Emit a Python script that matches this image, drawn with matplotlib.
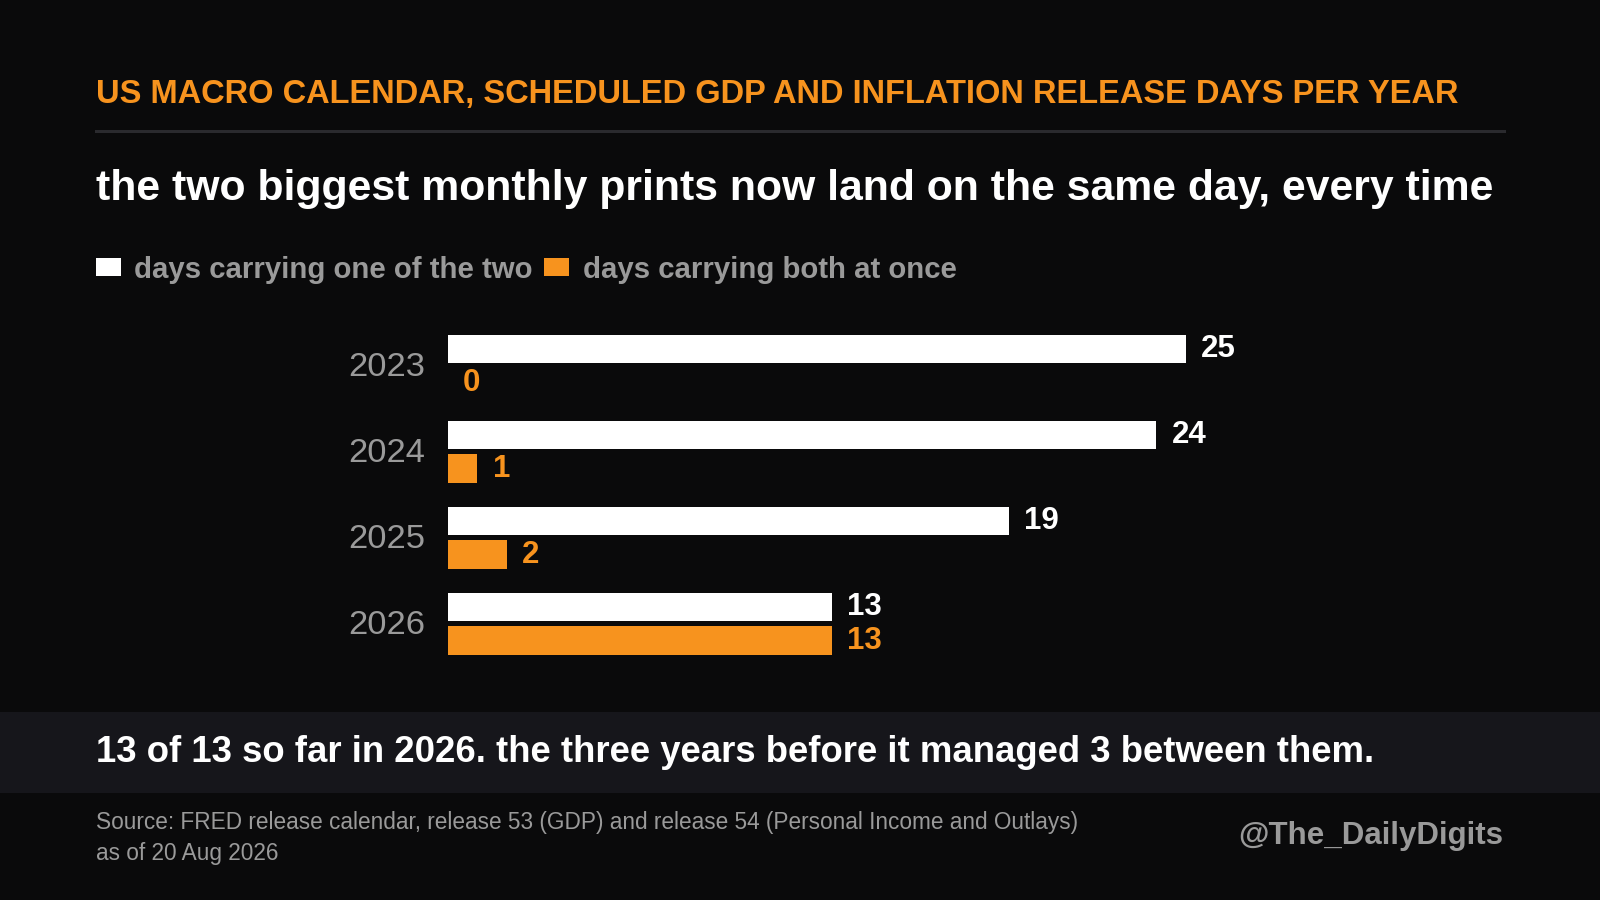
import matplotlib
matplotlib.use("Agg")
import matplotlib.pyplot as plt
import numpy as np
from matplotlib.patches import Rectangle

# ==========================================================
# DATA
# ==========================================================
years = ["2023", "2024", "2025", "2026"]
one_of_two = [25, 24, 19, 13]
both_at_once = [0, 1, 2, 13]

title = "US MACRO CALENDAR, SCHEDULED GDP AND INFLATION RELEASE DAYS PER YEAR"
subtitle = "the two biggest monthly prints now land on the same day, every time"
legend_labels = ["days carrying one of the two", "days carrying both at once"]
takeaway = "13 of 13 so far in 2026. the three years before it managed 3 between them."
source_lines = [
    "Source: FRED release calendar, release 53 (GDP) and release 54 (Personal Income and Outlays)",
    "as of 20 Aug 2026",
]
handle = "@The_DailyDigits"

# ==========================================================
# STYLE
# ==========================================================
BG = "#0a0a0b"
BAND = "#16161b"
RULE = "#2a2a2e"
ORANGE = "#f7931e"
WHITE = "#ffffff"
GRAY = "#9a9a9a"

plt.rcParams["font.family"] = ["Liberation Sans", "DejaVu Sans"]

# reference layout measured on a 1568 x 882 grid
W, H = 1568.0, 882.0


def fx(px):
    return px / W


def fy(py):
    return 1 - py / H


fig = plt.figure(figsize=(16, 9), dpi=100)
fig.patch.set_facecolor(BG)

# ==========================================================
# HEADER
# ==========================================================
fig.text(fx(94), fy(101), title, color=ORANGE, fontsize=23.5,
         fontweight="bold", ha="left", va="baseline")

fig.add_artist(Rectangle((fx(93), fy(130)), fx(1476) - fx(93), 3 / H,
                         transform=fig.transFigure, color=RULE, lw=0))

fig.text(fx(94), fy(196), subtitle, color=WHITE, fontsize=30.75,
         fontweight="bold", ha="left", va="baseline")

# legend
fig.add_artist(Rectangle((fx(94), fy(270)), 25 / W, 17 / H,
                         transform=fig.transFigure, color=WHITE, lw=0))
fig.text(fx(131), fy(272), legend_labels[0], color=GRAY, fontsize=21.2,
         fontweight="bold", ha="left", va="baseline")
fig.add_artist(Rectangle((fx(533), fy(270)), 25 / W, 17 / H,
                         transform=fig.transFigure, color=ORANGE, lw=0))
fig.text(fx(571), fy(272), legend_labels[1], color=GRAY, fontsize=21.2,
         fontweight="bold", ha="left", va="baseline")

# ==========================================================
# BARS
# ==========================================================
step = 84.3
top_px = 358.5 - step / 2
bottom_px = 358.5 + 3 * step + step / 2
ax = fig.add_axes([fx(439), fy(bottom_px), fx(1162) - fx(439),
                   (bottom_px - top_px) / H])
ax.set_facecolor("none")
ax.set_xlim(0, 25)
ax.set_ylim(len(years) - 0.5, -0.5)
ax.axis("off")

y = np.arange(len(years))
off = 16.5 / step
bh = 28 / step

ax.barh(y - off, one_of_two, height=bh, color=WHITE, lw=0)
ax.barh(y + off, both_at_once, height=bh, color=ORANGE, lw=0)

for i in range(len(years)):
    ax.annotate(years[i], (0, y[i]), xytext=(-16.4, -1.5),
                textcoords="offset points", ha="right", va="center",
                color=GRAY, fontsize=24.8, annotation_clip=False)
    ax.annotate(str(one_of_two[i]), (one_of_two[i], y[i] - off),
                xytext=(11, 0), textcoords="offset points", ha="left",
                va="center", color=WHITE, fontsize=22.5, fontweight="bold",
                annotation_clip=False)
    ax.annotate(str(both_at_once[i]), (both_at_once[i], y[i] + off),
                xytext=(11, 0), textcoords="offset points", ha="left",
                va="center", color=ORANGE, fontsize=22.5, fontweight="bold",
                annotation_clip=False)

# ==========================================================
# TAKEAWAY BAND + FOOTER
# ==========================================================
fig.add_artist(Rectangle((0, fy(777)), 1, 79 / H,
                         transform=fig.transFigure, color=BAND, lw=0))
fig.text(fx(94), fy(747), takeaway, color=WHITE, fontsize=26.3,
         fontweight="bold", ha="left", va="baseline")

fig.text(fx(94), fy(812), source_lines[0], color=GRAY, fontsize=16.3,
         ha="left", va="baseline")
fig.text(fx(94), fy(843), source_lines[1], color=GRAY, fontsize=16.3,
         ha="left", va="baseline")

fig.text(fx(1473), fy(827), handle, color=GRAY, fontsize=22.5,
         fontweight="bold", ha="right", va="baseline")

fig.savefig("out.png", dpi=100, facecolor=BG)
